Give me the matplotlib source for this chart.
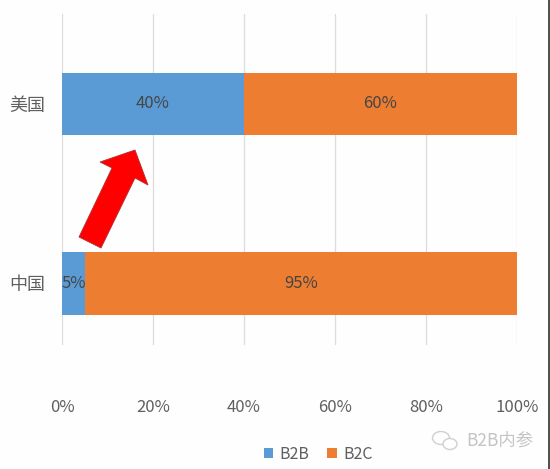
#!/usr/bin/env python3

from matplotlib import pyplot as plt
from matplotlib.patches import Ellipse, Polygon

plt.rcParams["font.family"] = ["Noto Sans CJK SC", "DejaVu Sans"]

countries = ["中国", "美国"]
b2b_share = [5, 40]
b2c_share = [95, 60]
x_ticks = [0, 20, 40, 60, 80, 100]

blue = "#5B9BD5"
orange = "#ED7D31"
text_color = "#5F5F5F"
label_color = "#454545"
width, height = 550, 469

# outline of the red arrow, in picture pixels
arrow_px = [
    (135, 150), (148, 185), (135, 178), (101, 248),
    (79, 237), (112, 168), (100, 162),
]


def px(x, y):
    return x / width, 1 - y / height


def main():
    fig = plt.figure(figsize=(width / 100, height / 100), dpi=100, facecolor="#FEFEFE")
    ax = fig.add_axes([62 / width, 1 - 345 / height, 455 / width, 331 / height])
    ax.set_facecolor("none")

    ys = range(len(countries))
    ax.barh(ys, b2b_share, height=0.35, color=blue, label="B2B", zorder=2)
    ax.barh(ys, b2c_share, left=b2b_share, height=0.35, color=orange, label="B2C", zorder=2)

    for y, b2b, b2c in zip(ys, b2b_share, b2c_share):
        ax.text(b2b / 2, y, f"{b2b}%", color=label_color, fontsize=12,
                ha="center", va="center", zorder=3)
        ax.text(b2b + b2c / 2, y, f"{b2c}%", color=label_color, fontsize=12,
                ha="center", va="center", zorder=3)

    ax.set_xlim(0, 100)
    ax.set_ylim(-0.343, 1.501)
    ax.set_xticks(x_ticks)
    ax.set_xticklabels([f"{t}%" for t in x_ticks], color=text_color, fontsize=12)
    ax.set_yticks(list(ys))
    ax.set_yticklabels(countries, color=text_color, fontsize=13)
    ax.tick_params(axis="x", length=0, pad=39)
    ax.tick_params(axis="y", length=0, pad=12)
    ax.grid(axis="x", color="#DCDCDC", linewidth=0.9, zorder=0)
    ax.set_axisbelow(True)
    for spine in ax.spines.values():
        spine.set_visible(False)

    fig.legend(
        loc="center",
        bbox_to_anchor=px(318, 454),
        ncol=2,
        frameon=False,
        fontsize=11.5,
        labelcolor=text_color,
        handlelength=0.6,
        handleheight=0.6,
        handletextpad=0.4,
        columnspacing=1.1,
    )

    fig.add_artist(Polygon([px(*p) for p in arrow_px], closed=True, facecolor="#FF0000",
                           edgecolor="#B03030", linewidth=0.6, transform=fig.transFigure))

    # watermark
    fig.text(*px(466, 441), "B2B内参", color="#C4C4C4", fontsize=12.5, va="center")
    for cx, cy, w, h in [(441, 438, 17, 13), (450, 444, 14, 11)]:
        fig.add_artist(Ellipse(px(cx, cy), w / width, h / height, facecolor="#FEFEFE",
                               edgecolor="#D0D0D0", linewidth=1, transform=fig.transFigure))

    # dark sliver along the right border of the picture
    fig.add_artist(plt.Line2D([548.5 / width] * 2, [0, 1], color="#303030", linewidth=1.2,
                              transform=fig.transFigure))

    fig.savefig("out.png", dpi=100, facecolor=fig.get_facecolor())


if __name__ == "__main__":
    main()
